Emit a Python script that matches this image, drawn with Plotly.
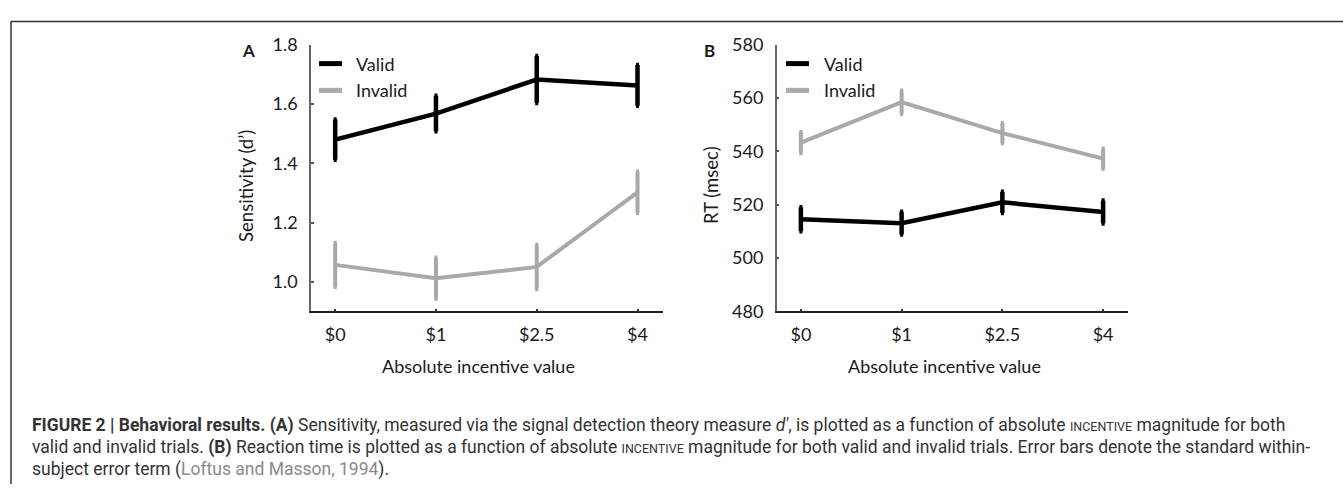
import plotly.graph_objects as go

W, H = 1343, 494

# Incentive conditions shared by both panels
incentives = ["$0", "$1", "$2.5", "$4"]

# Panel A: sensitivity (d') with within-subject error terms
dprime_valid = [1.480, 1.568, 1.683, 1.663]
dprime_valid_err = [0.068, 0.060, 0.079, 0.069]
dprime_invalid = [1.057, 1.012, 1.050, 1.302]
dprime_invalid_err = [0.075, 0.070, 0.075, 0.070]

# Panel B: reaction time (msec)
rt_valid = [514.6, 513.1, 520.9, 517.3]
rt_valid_err = [4.5, 4.3, 4.0, 4.3]
rt_invalid = [543.3, 558.5, 546.9, 537.3]
rt_invalid_err = [4.0, 4.4, 3.8, 3.8]

dprime_ticks = [1.0, 1.2, 1.4, 1.6, 1.8]
rt_ticks = [480, 500, 520, 540, 560, 580]

series_names = ["Valid", "Invalid"]
series_colors = ["#000000", "#a9a9a9"]

AXIS_FONT = "Lato, 'Open Sans', sans-serif"
CAPTION_FONT = "Roboto, 'Liberation Sans', sans-serif"


def px(x):
    return x / W


def py(y):
    return 1 - y / H


fig = go.Figure()

panels = [
    ("x", "y", [dprime_valid, dprime_invalid], [dprime_valid_err, dprime_invalid_err]),
    ("x2", "y2", [rt_valid, rt_invalid], [rt_valid_err, rt_invalid_err]),
]
for xa, ya, means, errs in panels:
    for name, color, m, e in zip(series_names, series_colors, means, errs):
        width = 4.5 if color == "#000000" else 4
        fig.add_trace(go.Scatter(
            x=incentives, y=m, name=name, mode="lines",
            line=dict(color=color, width=width),
            error_y=dict(type="data", array=e, visible=True,
                         color=color, thickness=width, width=1.5),
            xaxis=xa, yaxis=ya, showlegend=False,
        ))

common_x = dict(
    type="category", range=[-0.24, 3.25], showgrid=False, zeroline=False,
    showline=True, linecolor="#222222", linewidth=1.5,
    ticks="inside", ticklen=3, tickwidth=1.5, tickcolor="#333333",
    tickfont=dict(family=AXIS_FONT, size=18, color="#1a1a1a"),
    ticklabelstandoff=6, fixedrange=True,
)
common_y = dict(
    showgrid=False, zeroline=False,
    showline=True, linecolor="#666666", linewidth=1.5,
    ticks="inside", ticklen=3, tickwidth=1.5, tickcolor="#555555",
    tickfont=dict(family=AXIS_FONT, size=18, color="#1a1a1a"),
    ticklabelstandoff=8, fixedrange=True,
)

y_dom = [py(313.3), py(34.4)]
fig.update_layout(
    width=W, height=H,
    margin=dict(l=0, r=0, t=0, b=0),
    paper_bgcolor="white", plot_bgcolor="white",
    xaxis=dict(common_x, domain=[px(311), px(662.7)], anchor="y"),
    yaxis=dict(common_y, domain=y_dom, anchor="x", range=[0.9, 1.8],
               tickvals=dprime_ticks, tickformat=".1f"),
    xaxis2=dict(common_x, domain=[px(776.7), px(1128.3)], anchor="y2"),
    yaxis2=dict(common_y, domain=y_dom, anchor="x2", range=[480, 580],
                tickvals=rt_ticks),
    showlegend=False,
)

shapes = [
    # figure frame: top rule and left rule
    dict(type="line", xref="paper", yref="paper", x0=px(11), x1=1, y0=py(10), y1=py(10),
         line=dict(color="#333333", width=1.5)),
    dict(type="line", xref="paper", yref="paper", x0=px(11), x1=px(11), y0=py(10), y1=0,
         line=dict(color="#333333", width=1.5)),
]
annotations = []


def text(x, y, s, size=18, family=AXIS_FONT, color="#1a1a1a", xanchor="center", angle=0, **kw):
    annotations.append(dict(
        xref="paper", yref="paper", x=px(x), y=py(y), text=s, showarrow=False,
        xanchor=xanchor, yanchor="middle", textangle=angle,
        font=dict(family=family, size=size, color=color), **kw))


# panel letters
text(248, 40, "<b>A</b>", size=17)
text(709, 40, "<b>B</b>", size=17)

# axis titles
text(478, 371, "Absolute incentive value")
text(944, 371, "Absolute incentive value")
text(246, 182, "Sensitivity (d’)", angle=-90, size=18.5)
text(711, 181, "RT (msec)", angle=-90, size=18.5)

# in-plot legends
for x_line, x_text in [(319, 354), (786, 822)]:
    for name, color, yy in zip(series_names, series_colors, [54, 82]):
        shapes.append(dict(type="line", xref="paper", yref="paper",
                           x0=px(x_line), x1=px(x_line + 23), y0=py(yy), y1=py(yy),
                           line=dict(color=color, width=5)))
        text(x_text, yy, name, xanchor="left")

# caption
sc = "<span style='font-size:12.5px'>INCENTIVE</span>"
cap_color = "#333333"
caption = [
    "<b>FIGURE 2 | Behavioral results. (A)</b> Sensitivity, measured via the signal detection theory "
    "measure <i>d′</i>, is plotted as a function of absolute " + sc + " magnitude for both",
    "valid and invalid trials. <b>(B)</b> Reaction time is plotted as a function of absolute " + sc
    + " magnitude for both valid and invalid trials. Error bars denote the standard within-",
    "subject error term (<span style='color:#8a8a8a'>Loftus and Masson, 1994</span>).",
]
for line, yy in zip(caption, [433, 456, 479]):
    text(30, yy, line, size=17.5, family=CAPTION_FONT, color=cap_color, xanchor="left")

fig.update_layout(shapes=shapes, annotations=annotations)

fig.write_html("out.html", config={"displayModeBar": False})
